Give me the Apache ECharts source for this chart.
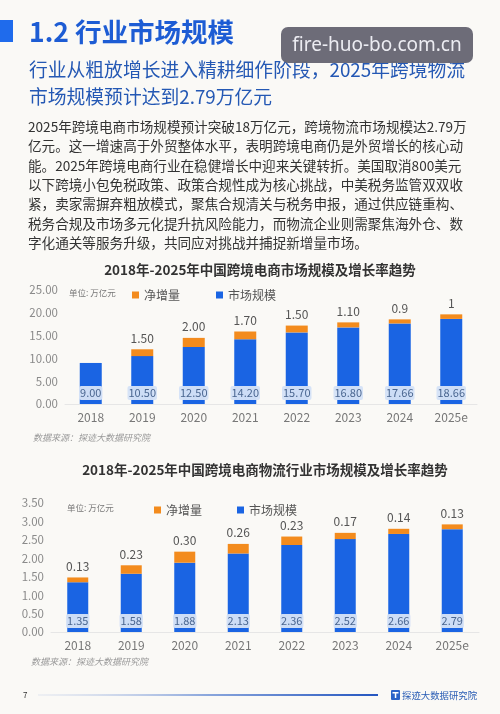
<!DOCTYPE html>
<html>
<head>
<meta charset="utf-8">
<script src="https://cdn.jsdelivr.net/npm/echarts@6/dist/echarts.min.js"></script>
<style>
html,body{margin:0;padding:0;background:#faf9f6;}
#main{width:500px;height:714px;}
</style>
</head>
<body>
<div id="main"></div>
<script>
// ---- data ----
const years = ['2018','2019','2020','2021','2022','2023','2024','2025e'];
const ecomMarket = [9.00, 10.50, 12.50, 14.20, 15.70, 16.80, 17.66, 18.66];
const ecomIncrease = [null, 1.50, 2.00, 1.70, 1.50, 1.10, 0.9, 1];
const ecomIncreaseLabels = ['', '1.50', '2.00', '1.70', '1.50', '1.10', '0.9', '1'];
const logiMarket = [1.35, 1.58, 1.88, 2.13, 2.36, 2.52, 2.66, 2.79];
const logiIncrease = [0.13, 0.23, 0.30, 0.26, 0.23, 0.17, 0.14, 0.13];
const logiIncreaseLabels = ['0.13', '0.23', '0.30', '0.26', '0.23', '0.17', '0.14', '0.13'];
const paragraph = [
  '2025年跨境电商市场规模预计突破18万亿元，跨境物流市场规模达2.79万',
  '亿元。这一增速高于外贸整体水平，表明跨境电商仍是外贸增长的核心动',
  '能。2025年跨境电商行业在稳健增长中迎来关键转折。美国取消800美元',
  '以下跨境小包免税政策、政策合规性成为核心挑战，中美税务监管双双收',
  '紧，卖家需摒弃粗放模式，聚焦合规清关与税务申报，通过供应链重构、',
  '税务合规及市场多元化提升抗风险能力，而物流企业则需聚焦海外仓、数',
  '字化通关等服务升级，共同应对挑战并捕捉新增量市场。'
];

const FONT = '"Noto Sans CJK SC","Noto Sans",sans-serif';
const BLUE = '#1a64e3';
const ORANGE = '#f38b1d';

const chart = echarts.init(document.getElementById('main'), null, {renderer:'canvas'});

function txt(text, x, y, size, color, extra) {
  return Object.assign({
    type:'text', z: 10,
    style: Object.assign({
      text: text, x: x, y: y, fontSize: size, fill: color,
      fontFamily: FONT, textVerticalAlign: 'middle'
    }, extra || {})
  });
}

const graphics = [];
// section header
graphics.push({type:'rect', shape:{x:0, y:20, width:13, height:22}, style:{fill:'#1f6bec'}});
graphics.push(txt('1.2 行业市场规模', 29, 32, 26.5, '#1d5cd4', {fontWeight:'bold'}));
graphics.push(txt('行业从粗放增长进入精耕细作阶段，2025年跨境物流', 29, 70, 18.8, '#2458b4'));
graphics.push(txt('市场规模预计达到2.79万亿元', 29, 97, 18.8, '#2458b4'));
// watermark box
graphics.push({type:'rect', z: 20, shape:{x:281, y:27, width:192, height:36, r:7}, style:{fill:'rgba(104,103,116,0.97)'}});
graphics.push({type:'text', z: 21, style:{text:'fire-huo-bo.com.cn', x:377, y:46, fontSize:19, fill:'#ececf2', fontFamily:'"Noto Sans",sans-serif', textAlign:'center', textVerticalAlign:'middle'}});
// paragraph
paragraph.forEach((line, i) => {
  graphics.push(txt(line, 28, 127 + i * 19.3, 13.6, '#333333'));
});
// chart titles
graphics.push(txt('2018年-2025年中国跨境电商市场规模及增长率趋势', 260, 270, 13.5, '#333333', {fontWeight:'bold', textAlign:'center'}));
graphics.push(txt('2018年-2025年中国跨境电商物流行业市场规模及增长率趋势', 265, 470, 13.5, '#333333', {fontWeight:'bold', textAlign:'center'}));
// unit notes
graphics.push(txt('单位: 万亿元', 69, 293, 8.5, '#777777'));
graphics.push(txt('单位: 万亿元', 67, 508, 8.5, '#777777'));
// sources
graphics.push(txt('数据来源：探迹大数据研究院', 33, 438, 9, '#9a9a9a', {fontStyle:'italic'}));
graphics.push(txt('数据来源：探迹大数据研究院', 31, 662, 9, '#9a9a9a', {fontStyle:'italic'}));
// footer
graphics.push(txt('7', 23, 695, 8, '#333333'));
graphics.push({type:'rect', shape:{x:38, y:694, width:340, height:2},
  style:{fill:{type:'linear', x:0, y:0, x2:1, y2:0, colorStops:[{offset:0,color:'rgba(210,218,235,0.3)'},{offset:0.5,color:'#8aa6dc'},{offset:1,color:'#2456c0'}]}}});
graphics.push({type:'rect', shape:{x:391, y:690, width:9, height:10, r:1}, style:{fill:'#2a63c8'}});
graphics.push({type:'rect', shape:{x:392.5, y:692, width:6, height:1.5}, style:{fill:'#ffffff'}});
graphics.push({type:'rect', shape:{x:394.8, y:692, width:1.5, height:6}, style:{fill:'#ffffff'}});
graphics.push(txt('探迹大数据研究院', 402, 695, 9.4, '#2a5db5'));

function yAxisCfg(gi, max, interval) {
  return {
    type:'value', gridIndex: gi, min:0, max:max, interval:interval,
    axisLine:{show:false}, axisTick:{show:false}, splitLine:{show:false},
    axisLabel:{color:'#8a8a8a', fontSize:11.5, fontFamily:FONT, margin:7,
      formatter: v => v.toFixed(2)}
  };
}
function xAxisCfg(gi) {
  return {
    type:'category', gridIndex: gi, data: years,
    axisLine:{show:true, lineStyle:{color:'#e6e6e6'}}, axisTick:{show:false},
    axisLabel:{color:'#777777', fontSize:12, fontFamily:FONT, margin:7}
  };
}
function marketSeries(gi, data, barW) {
  return {
    name:'市场规模', type:'bar', stack:'s'+gi, xAxisIndex:gi, yAxisIndex:gi,
    data:data, barWidth:barW, itemStyle:{color:BLUE},
    label:{show:true, position:'insideBottom', distance:4,
      formatter: p => p.value.toFixed(2),
      color:'#4a6690', fontSize:11, fontFamily:FONT, lineHeight:12,
      backgroundColor:'rgba(212,226,247,0.96)', padding:[1,1], borderRadius:2}
  };
}
function incSeries(gi, data, labels, barW) {
  return {
    name:'净增量', type:'bar', stack:'s'+gi, xAxisIndex:gi, yAxisIndex:gi,
    data:data, barWidth:barW, itemStyle:{color:ORANGE},
    label:{show:true, position:'top', distance:5,
      formatter: p => labels[p.dataIndex],
      color:'#555555', fontSize:12, fontFamily:FONT}
  };
}

const option = {
  backgroundColor:'#faf9f6',
  animation:false,
  textStyle:{fontFamily:FONT},
  graphic: graphics,
  legend:[
    {data:['净增量','市场规模'], left:127, top:284, itemWidth:7, itemHeight:7, icon:'rect',
      itemGap:36, textStyle:{fontSize:12, color:'#555555', fontFamily:FONT}},
    {data:['净增量','市场规模'], left:149, top:499, itemWidth:7, itemHeight:7, icon:'rect',
      itemGap:35, textStyle:{fontSize:12, color:'#555555', fontFamily:FONT}}
  ],
  grid:[
    {left:65, right:23, top:290, bottom:310},
    {left:51, right:21, top:503, bottom:82}
  ],
  xAxis:[xAxisCfg(0), xAxisCfg(1)],
  yAxis:[yAxisCfg(0, 25, 5), yAxisCfg(1, 3.5, 0.5)],
  series:[
    marketSeries(0, ecomMarket, 22),
    incSeries(0, ecomIncrease, ecomIncreaseLabels, 22),
    marketSeries(1, logiMarket, 21),
    incSeries(1, logiIncrease, logiIncreaseLabels, 21)
  ]
};
chart.setOption(option);
</script>
</body>
</html>
